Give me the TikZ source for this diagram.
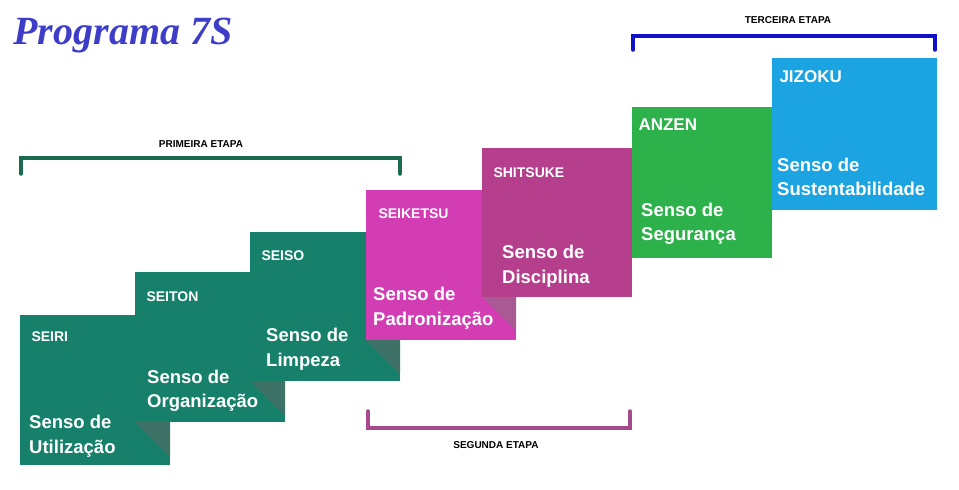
\documentclass[tikz,border=0pt]{standalone}
\usepackage{fontspec}
\setmainfont{Liberation Sans}
\newfontfamily\titlefont{Liberation Serif}
\definecolor{seigreen}{HTML}{17806A}
\definecolor{foldgreen}{HTML}{3F7266}
\definecolor{seipink}{HTML}{D23DB4}
\definecolor{foldpink}{HTML}{A95A94}
\definecolor{shitpink}{HTML}{B53F8C}
\definecolor{anzgreen}{HTML}{2DB24B}
\definecolor{jizblue}{HTML}{1BA3E2}
\definecolor{etapagreen}{HTML}{1A6B50}
\definecolor{etapapink}{HTML}{A64A8E}
\definecolor{etapablue}{HTML}{1010C8}
\definecolor{titleblue}{HTML}{3D3DC8}
\tikzset{
  cardtitle/.style={anchor=west, text=white, font=\bfseries\fontsize{14}{14}\selectfont},
  bigtitle/.style={anchor=west, text=white, font=\bfseries\fontsize{17}{17}\selectfont},
  cardbody/.style={anchor=west, text=white, align=left, inner sep=0pt,
    font=\bfseries\fontsize{18.5}{24.5}\selectfont},
  etapa/.style={line width=3.5pt, line cap=round},
  etapalabel/.style={font=\bfseries\fontsize{10}{10}\selectfont}
}
% card: name, x1, y1, x2, y2, colour
\newcommand\stepcard[6]{\fill[#6] (#2,#3) rectangle (#4,#5);
  \coordinate (#1) at (#2,#3);}
% fold shadow below the next card: x of next card, bottom of next card, right edge, colour
\newcommand\stepfold[4]{\fill[#4] (#1,#2) -- (#3,#2) -- (#3,#2+#3-#1) -- cycle;}

\begin{document}
\begin{tikzpicture}[x=1pt, y=-1pt]
      \useasboundingbox (0,0) rectangle (959,490);

      % Title
      \node[anchor=west, text=titleblue, font=\titlefont\bfseries\itshape\fontsize{40}{40}\selectfont]
        (titulo) at (10,36) {Programa 7S};

      % Cards, from left to right
      \stepcard{seiri}{20}{315}{170}{465}{seigreen}
      \stepcard{seiton}{135}{272}{285}{422}{seigreen}
      \stepfold{135}{422}{170}{foldgreen}
      \stepcard{seiso}{250}{232}{400}{381}{seigreen}
      \stepfold{250}{381}{285}{foldgreen}
      \stepcard{seiketsu}{366}{190}{516}{340}{seipink}
      \stepfold{366}{340}{400}{foldgreen}
      \stepcard{shitsuke}{482}{148}{632}{297}{shitpink}
      \stepfold{482}{297}{516}{foldpink}
      \stepcard{anzen}{632}{107}{772}{258}{anzgreen}
      \stepcard{jizoku}{772}{58}{937}{210}{jizblue}

      % Card texts
      \node[cardtitle] (t1) at (28,337) {SEIRI};
      \node[cardbody] (b1) at (29,436) {Senso de\\Utilização};
      \node[cardtitle] (t2) at (143,297) {SEITON};
      \node[cardbody] (b2) at (147,391) {Senso de\\Organização};
      \node[cardtitle] (t3) at (258,256) {SEISO};
      \node[cardbody] (b3) at (266,349) {Senso de\\Limpeza};
      \node[cardtitle] (t4) at (375,214) {SEIKETSU};
      \node[cardbody] (b4) at (373,308) {Senso de\\Padronização};
      \node[cardtitle] (t5) at (490,173) {SHITSUKE};
      \node[cardbody] (b5) at (502,266) {Senso de\\Disciplina};
      \node[bigtitle] (t6) at (635,125) {ANZEN};
      \node[cardbody] (b6) at (641,224) {Senso de\\Segurança};
      \node[bigtitle] (t7) at (776,77) {JIZOKU};
      \node[cardbody] (b7) at (777,177) {Senso de\\Sustentabilidade};

      % Stage brackets
      \draw[etapa, etapagreen] (21,174) |- (400,158) -- (400,174);
      \node[etapalabel] (e1) at (201,144) {PRIMEIRA ETAPA};
      \draw[etapa, etapapink] (368,411) |- (630,428) -- (630,411);
      \node[etapalabel] (e2) at (496,445) {SEGUNDA ETAPA};
      \draw[etapa, etapablue] (633,50) |- (935,36) -- (935,50);
      \node[etapalabel] (e3) at (788,20) {TERCEIRA ETAPA};
\end{tikzpicture}
\end{document}
